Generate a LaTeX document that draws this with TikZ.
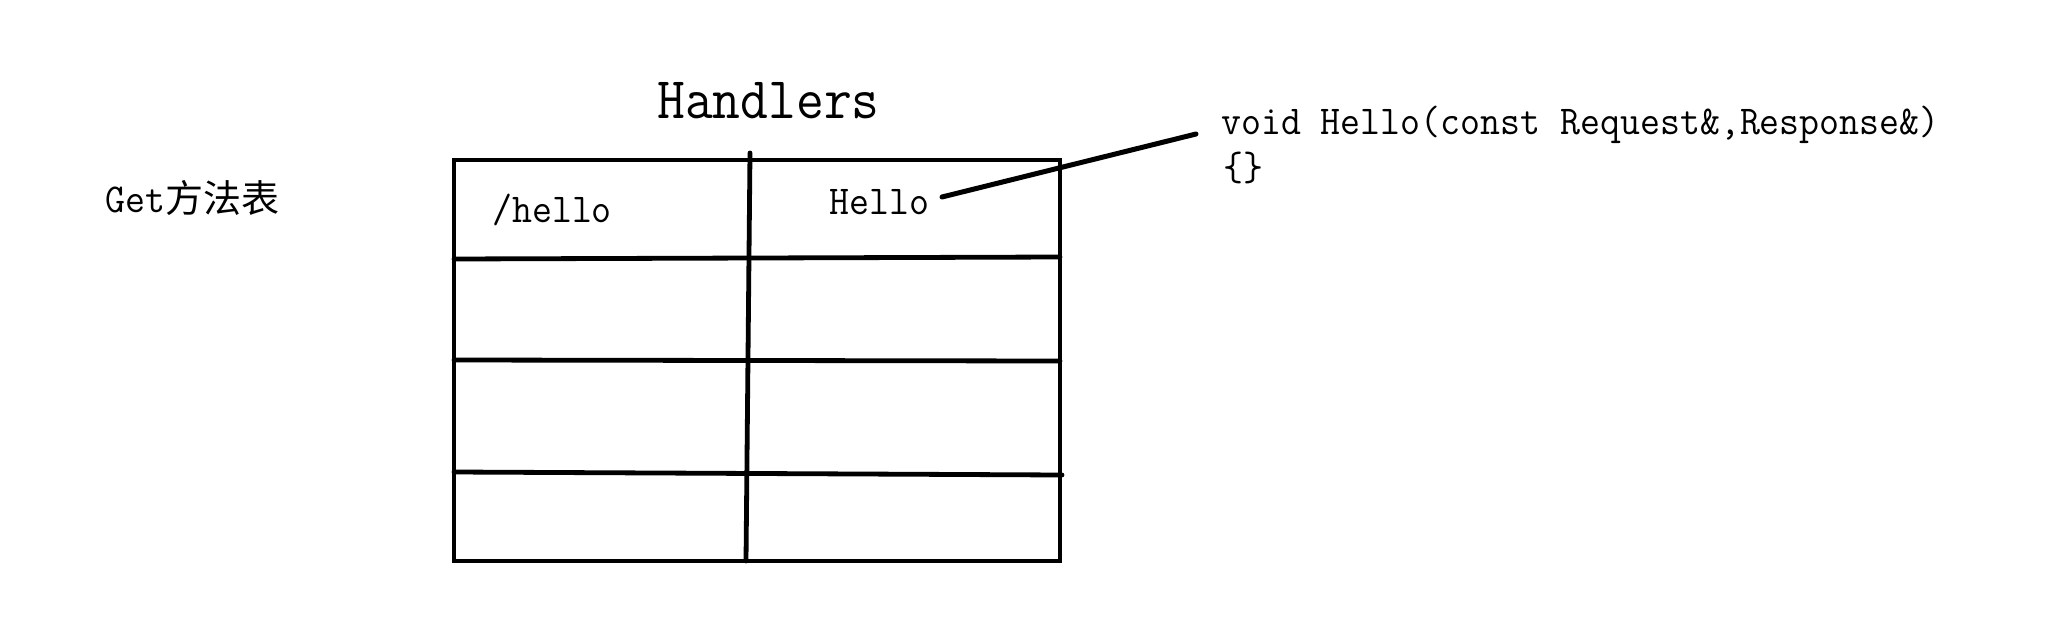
\documentclass[tikz,border=0pt]{standalone}
\usepackage{fontspec}
\usepackage{graphicx}
\newfontfamily\cjkfont{Noto Sans CJK SC}
\newcommand{\nar}[1]{\scalebox{0.945}[1]{#1}}
\newcommand{\narbig}[1]{\scalebox{0.915}[1]{#1}}
\begin{document}
\begin{tikzpicture}[x=1pt,y=-1pt,
  txt/.style={inner sep=0pt, anchor=base west, font=\ttfamily\fontsize{41}{48}\selectfont},
  bigtxt/.style={inner sep=0pt, anchor=base west, font=\ttfamily\fontsize{59}{66}\selectfont},
  rule/.style={line width=4.8pt, line cap=round, line join=miter},
  wire/.style={line width=5pt, line cap=round}]
\useasboundingbox (0,0) rectangle (2046,640);
\fill[white] (0,0) rectangle (2046,640);
% texts
\node[bigtxt] (title) at (657,118) {\narbig{Handlers}};
\node[txt] (get) at (105,212) {\nar{Get}{\cjkfont\fontsize{38}{42}\selectfont 方法表}};
\node[txt] (route) at (492,222) {\nar{/hello}};
\node[txt] (hello) at (829,214) {\nar{Hello}};
\node[txt] (sig) at (1221,134) {\nar{void Hello(const Request\&,Response\&)}};
\node[txt] (body) at (1223,180) {\nar{\{\}}};
% table
\draw[rule] (454,160) rectangle (1060,561);
\draw[rule] (750,153) -- (746,561);
\draw[rule] (454,259) -- (1060,257);
\draw[rule] (454,360) -- (1060,361);
\draw[rule] (454,472) -- (1062,475);
% connector
\coordinate (c1) at (942,197);
\coordinate (c2) at (1196,134);
\draw[wire] (c1) -- (c2);
\end{tikzpicture}
\end{document}
